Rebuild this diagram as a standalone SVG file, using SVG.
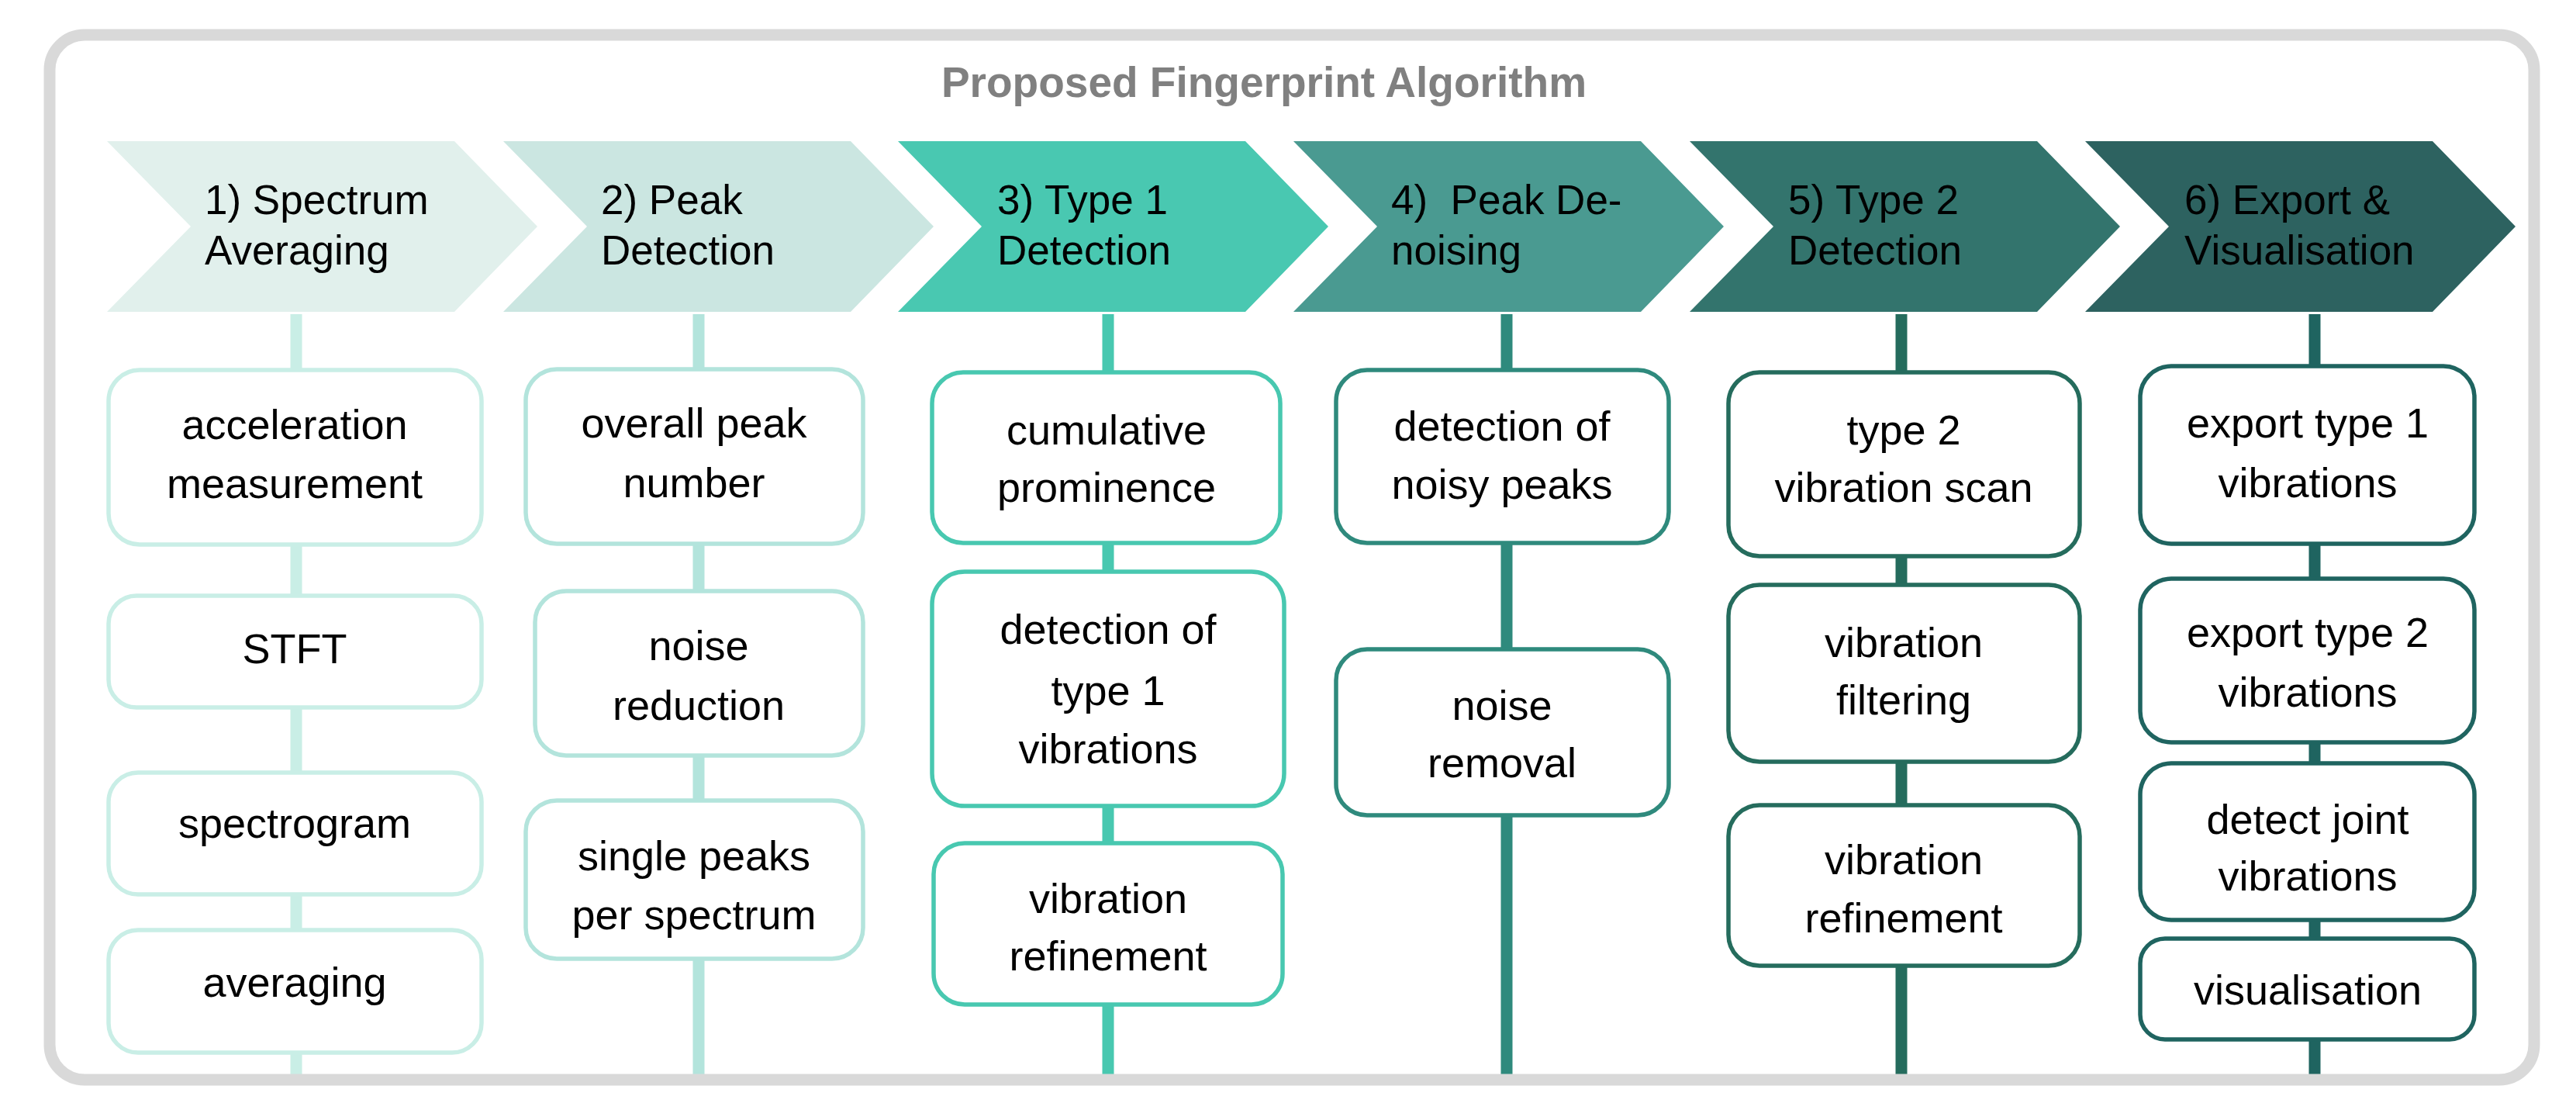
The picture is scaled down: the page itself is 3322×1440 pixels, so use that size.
<svg xmlns="http://www.w3.org/2000/svg" width="3322" height="1440" viewBox="0 0 3322 1440">
<style>
.t{font-family:"Liberation Sans",Arial,sans-serif;font-size:54px;fill:#000;text-anchor:middle}
.h{font-family:"Liberation Sans",Arial,sans-serif;font-size:53px;fill:#000}
.title{font-family:"Liberation Sans",Arial,sans-serif;font-size:55px;font-weight:bold;fill:#808080;text-anchor:middle}
.b{fill:#fff;stroke-width:5.5}
.c1{stroke:#c9eee6}.c2{stroke:#b3e4dc}.c3{stroke:#48c8b0}.c4{stroke:#2f8a7d}.c5{stroke:#256c5d}.c6{stroke:#1f6460}
.ln{stroke-width:15;fill:none}
</style>
<rect width="3322" height="1440" fill="#fff"/>
<g id="connectors">
<line class="ln c1" x1="382" y1="405" x2="382" y2="1386"/>
<line class="ln c2" x1="901" y1="405" x2="901" y2="1386"/>
<line class="ln c3" x1="1429" y1="405" x2="1429" y2="1386"/>
<line class="ln c4" x1="1943" y1="405" x2="1943" y2="1386"/>
<line class="ln c5" x1="2452" y1="405" x2="2452" y2="1386"/>
<line class="ln c6" x1="2985" y1="405" x2="2985" y2="1386"/>
</g>
<g id="frame"><rect x="64" y="45" width="3204" height="1347" rx="45" fill="none" stroke="#d9d9d9" stroke-width="15"/></g>
<g id="title"><text class="title" x="1630" y="125">Proposed Fingerprint Algorithm</text></g>
<g id="step1"><polygon points="138,182 586,182 693,292 586,402 138,402 246,292" fill="#e1f0ec"/><text class="h" x="264" y="276">1) Spectrum</text><text class="h" x="264" y="341">Averaging</text></g>
<g id="step2"><polygon points="649,182 1097,182 1204,292 1097,402 649,402 757,292" fill="#cbe6e1"/><text class="h" x="775" y="276">2) Peak</text><text class="h" x="775" y="341">Detection</text></g>
<g id="step3"><polygon points="1158,182 1606,182 1713,292 1606,402 1158,402 1266,292" fill="#49c8b1"/><text class="h" x="1286" y="276">3) Type 1</text><text class="h" x="1286" y="341">Detection</text></g>
<g id="step4"><polygon points="1668,182 2116,182 2223,292 2116,402 1668,402 1776,292" fill="#4a9a91"/><text class="h" x="1794" y="276" xml:space="preserve">4)  Peak De-</text><text class="h" x="1794" y="341">noising</text></g>
<g id="step5"><polygon points="2179,182 2627,182 2734,292 2627,402 2179,402 2287,292" fill="#33746d"/><text class="h" x="2306" y="276">5) Type 2</text><text class="h" x="2306" y="341">Detection</text></g>
<g id="step6"><polygon points="2689,182 3137,182 3244,292 3137,402 2689,402 2797,292" fill="#2d6260"/><text class="h" x="2817" y="276">6) Export &amp;</text><text class="h" x="2817" y="341">Visualisation</text></g>

<g id="n1a"><rect class="b c1" x="140" y="477" width="481" height="225" rx="40"/><text class="t" x="380" y="566">acceleration</text><text class="t" x="380" y="642">measurement</text></g>
<g id="n1b"><rect class="b c1" x="140" y="768" width="481" height="144" rx="36"/><text class="t" x="380" y="855">STFT</text></g>
<g id="n1c"><rect class="b c1" x="140" y="996" width="481" height="157" rx="38"/><text class="t" x="380" y="1080">spectrogram</text></g>
<g id="n1d"><rect class="b c1" x="140" y="1199" width="481" height="158" rx="38"/><text class="t" x="380" y="1285">averaging</text></g>

<g id="n2a"><rect class="b c2" x="678" y="476" width="435" height="225" rx="40"/><text class="t" x="895" y="564">overall peak</text><text class="t" x="895" y="641">number</text></g>
<g id="n2b"><rect class="b c2" x="690" y="762" width="423" height="212" rx="40"/><text class="t" x="901" y="851">noise</text><text class="t" x="901" y="928">reduction</text></g>
<g id="n2c"><rect class="b c2" x="678" y="1032" width="435" height="204" rx="40"/><text class="t" x="895" y="1122">single peaks</text><text class="t" x="895" y="1198">per spectrum</text></g>

<g id="n3a"><rect class="b c3" x="1202" y="480" width="449" height="220" rx="40"/><text class="t" x="1427" y="573">cumulative</text><text class="t" x="1427" y="647">prominence</text></g>
<g id="n3b"><rect class="b c3" x="1202" y="737" width="454" height="302" rx="42"/><text class="t" x="1429" y="830">detection of</text><text class="t" x="1429" y="909">type 1</text><text class="t" x="1429" y="984">vibrations</text></g>
<g id="n3c"><rect class="b c3" x="1204" y="1087" width="450" height="208" rx="40"/><text class="t" x="1429" y="1177">vibration</text><text class="t" x="1429" y="1251">refinement</text></g>

<g id="n4a"><rect class="b c4" x="1723" y="477" width="429" height="223" rx="40"/><text class="t" x="1937" y="568">detection of</text><text class="t" x="1937" y="643">noisy peaks</text></g>
<g id="n4b"><rect class="b c4" x="1723" y="837" width="429" height="214" rx="40"/><text class="t" x="1937" y="928">noise</text><text class="t" x="1937" y="1002">removal</text></g>

<g id="n5a"><rect class="b c5" x="2229" y="480" width="453" height="237" rx="40"/><text class="t" x="2455" y="573">type 2</text><text class="t" x="2455" y="647">vibration scan</text></g>
<g id="n5b"><rect class="b c5" x="2229" y="754" width="453" height="228" rx="40"/><text class="t" x="2455" y="847">vibration</text><text class="t" x="2455" y="921">filtering</text></g>
<g id="n5c"><rect class="b c5" x="2229" y="1038" width="453" height="207" rx="40"/><text class="t" x="2455" y="1127">vibration</text><text class="t" x="2455" y="1202">refinement</text></g>

<g id="n6a"><rect class="b c6" x="2760" y="472" width="431" height="229" rx="40"/><text class="t" x="2976" y="564">export type 1</text><text class="t" x="2976" y="641">vibrations</text></g>
<g id="n6b"><rect class="b c6" x="2760" y="746" width="431" height="211" rx="40"/><text class="t" x="2976" y="834">export type 2</text><text class="t" x="2976" y="911">vibrations</text></g>
<g id="n6c"><rect class="b c6" x="2760" y="984" width="431" height="202" rx="40"/><text class="t" x="2976" y="1075">detect joint</text><text class="t" x="2976" y="1148">vibrations</text></g>
<g id="n6d"><rect class="b c6" x="2760" y="1210" width="431" height="130" rx="32"/><text class="t" x="2976" y="1295">visualisation</text></g>
</svg>
